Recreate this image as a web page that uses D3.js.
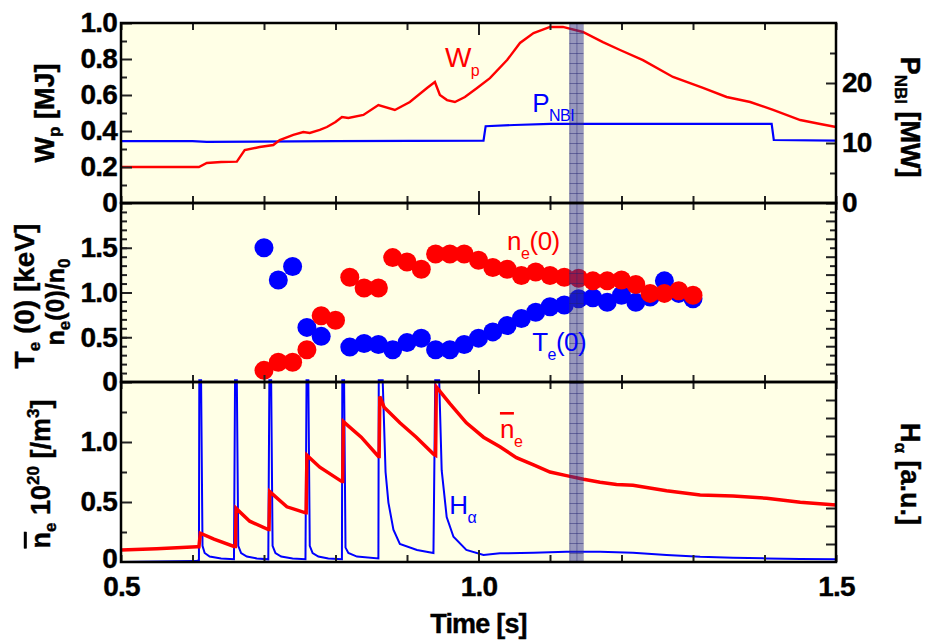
<!DOCTYPE html>
<html>
<head>
<meta charset="utf-8">
<script src="https://cdn.jsdelivr.net/npm/d3@7"></script>
<style>
body { margin: 0; background: #fff; }
svg { display: block; font-family: "Liberation Sans", Arial, sans-serif; }
.tl text { font-size: 28px; font-weight: bold; letter-spacing: -0.8px; fill: #000; stroke: #000; stroke-width: 0.4px; }
.tl line { stroke: #222; stroke-width: 2px; }
.ttl { font-size: 27px; font-weight: bold; fill: #000; stroke: #000; stroke-width: 0.4px; }
.ann { font-size: 26px; letter-spacing: -0.5px; }
</style>
</head>
<body>
<div id="chart"></div>
<script>
var width = 925,
    height = 641;

// W_p [MJ]
var wpTime = [0.50, 0.55, 0.60, 0.609, 0.62, 0.64, 0.662, 0.673, 0.694, 0.713, 0.722, 0.741, 0.755, 0.764, 0.778, 0.788, 0.80, 0.809, 0.818, 0.839, 0.86, 0.883, 0.904, 0.928, 0.939, 0.946, 0.956, 0.967, 0.981, 0.998, 1.016, 1.04, 1.058, 1.077, 1.10, 1.118, 1.146, 1.174, 1.198, 1.23, 1.272, 1.314, 1.347, 1.38, 1.412, 1.45, 1.478, 1.50];
var wpVal  = [0.20, 0.20, 0.20, 0.20, 0.222, 0.228, 0.23, 0.294, 0.311, 0.322, 0.35, 0.378, 0.394, 0.389, 0.406, 0.422, 0.45, 0.478, 0.472, 0.489, 0.544, 0.517, 0.561, 0.639, 0.672, 0.60, 0.572, 0.561, 0.589, 0.639, 0.694, 0.794, 0.889, 0.944, 0.978, 0.978, 0.95, 0.894, 0.85, 0.794, 0.70, 0.639, 0.589, 0.561, 0.517, 0.461, 0.439, 0.422];

// P_NBI [MW]
var pnbiTime = [0.50, 0.60, 0.62, 0.80, 1.007, 1.010, 1.05, 1.10, 1.30, 1.410, 1.413, 1.50];
var pnbiVal  = [10.3, 10.3, 10.2, 10.3, 10.4, 12.8, 13.0, 13.2, 13.2, 13.2, 10.5, 10.4];

// profile points
var profTime = [0.70, 0.72, 0.74, 0.76, 0.78, 0.80, 0.82, 0.84, 0.86, 0.88, 0.90, 0.92, 0.94, 0.96, 0.98, 1.00, 1.02, 1.04, 1.06, 1.08, 1.10, 1.12, 1.14, 1.16, 1.18, 1.20, 1.22, 1.24, 1.26, 1.28, 1.30];
var teVal = [1.50, 1.14, 1.29, 0.61, 0.51, null, 0.39, 0.43, 0.42, 0.36, 0.44, 0.49, 0.36, 0.36, 0.42, 0.49, 0.56, 0.63, 0.71, 0.78, 0.84, 0.86, 0.93, 0.94, 0.89, 0.97, 0.89, 0.95, 1.13, 0.99, 0.93];
var neVal = [0.13, 0.22, 0.22, 0.36, 0.74, 0.69, 1.17, 1.05, 1.05, 1.39, 1.34, 1.26, 1.43, 1.43, 1.43, 1.36, 1.28, 1.26, 1.19, 1.23, 1.19, 1.17, 1.16, 1.13, 1.13, 1.14, 1.09, 0.99, 0.99, 1.02, 0.97];

// line averaged density [10^20 /m^3]
var nbarTime = [0.50, 0.55, 0.606, 0.609, 0.611, 0.63, 0.658, 0.660, 0.661, 0.68, 0.706, 0.707, 0.708, 0.732, 0.758, 0.759, 0.760, 0.778, 0.809, 0.810, 0.811, 0.836, 0.860, 0.861, 0.862, 0.868, 0.890, 0.913, 0.937, 0.940, 0.941, 0.96, 0.983, 1.007, 1.03, 1.053, 1.077, 1.10, 1.123, 1.147, 1.17, 1.193, 1.216, 1.263, 1.31, 1.356, 1.403, 1.45, 1.50];
var nbarVal  = [0.10, 0.11, 0.128, 0.128, 0.24, 0.19, 0.13, 0.13, 0.447, 0.34, 0.27, 0.27, 0.586, 0.46, 0.41, 0.41, 0.89, 0.79, 0.67, 0.67, 1.17, 1.04, 0.88, 0.88, 1.38, 1.29, 1.16, 1.04, 0.90, 0.89, 1.46, 1.32, 1.16, 1.04, 0.96, 0.87, 0.81, 0.75, 0.72, 0.69, 0.665, 0.645, 0.64, 0.594, 0.558, 0.55, 0.531, 0.497, 0.475];

// H alpha [a.u.]
var haTime = [0.50, 0.605, 0.609, 0.6095, 0.612, 0.614, 0.617, 0.624, 0.64, 0.658,
              0.6595, 0.662, 0.664, 0.668, 0.676, 0.69, 0.706,
              0.7075, 0.710, 0.712, 0.716, 0.724, 0.74, 0.758,
              0.7595, 0.762, 0.764, 0.768, 0.776, 0.79, 0.809,
              0.8095, 0.812, 0.814, 0.818, 0.83, 0.86,
              0.8605, 0.866, 0.870, 0.874, 0.881, 0.89, 0.914, 0.937,
              0.9395, 0.945, 0.9485, 0.9555, 0.965, 0.983, 1.007, 1.03, 1.077, 1.123, 1.17, 1.216, 1.263, 1.31, 1.356, 1.403, 1.45, 1.50];
var haVal  = [0.0, 0.05, 0.1, 10.1, 10.1, 0.9, 0.5, 0.3, 0.2, 0.15,
              10.1, 10.1, 0.9, 0.5, 0.3, 0.2, 0.15,
              10.1, 10.1, 0.9, 0.5, 0.3, 0.2, 0.15,
              10.1, 10.1, 0.9, 0.5, 0.3, 0.2, 0.15,
              10.1, 10.1, 0.8, 0.5, 0.3, 0.2,
              10.1, 10.1, 5.0, 3.3, 1.8, 1.0, 0.67, 0.5,
              10.1, 10.1, 5.1, 2.5, 1.4, 0.67, 0.39, 0.48, 0.52, 0.57, 0.57, 0.52, 0.39, 0.29, 0.24, 0.2, 0.17, 0.15];

// highlighted time window
var bandTime = [1.127, 1.147];

var left = 121, right = 836;
var panels = [{top: 23, bottom: 203}, {top: 203, bottom: 382}, {top: 382, bottom: 562}];

var svg = d3.select("#chart").append("svg")
    .attr("width", width)
    .attr("height", height);

var x = d3.scaleLinear().domain([0.5, 1.5]).range([left, right]);
var yW = d3.scaleLinear().domain([0, 1]).range([203, 23]);
var yP = d3.scaleLinear().domain([0, 30]).range([203, 23]);
var yT = d3.scaleLinear().domain([0, 2]).range([382, 203]);
var yN = d3.scaleLinear().domain([0, 1.5]).range([562, 382]);
var yH = d3.scaleLinear().domain([0, 10]).range([562, 382]);

// background
svg.append("rect")
    .attr("x", left).attr("y", 23)
    .attr("width", right - left).attr("height", 562 - 23)
    .attr("fill", "#ffffe6");

function lineOf(ys) {
    return d3.line().x(d => x(d[0])).y(d => ys(d[1]));
}

// panel 1
svg.append("path").attr("d", lineOf(yP)(d3.zip(pnbiTime, pnbiVal)))
    .attr("fill", "none").attr("stroke", "#0000ff").attr("stroke-width", 2.2);
svg.append("path").attr("d", lineOf(yW)(d3.zip(wpTime, wpVal)))
    .attr("fill", "none").attr("stroke", "#ff0000").attr("stroke-width", 2.4);

// panel 3
svg.append("path").attr("d", lineOf(yH)(d3.zip(haTime, haVal)))
    .attr("fill", "none").attr("stroke", "#0000ff").attr("stroke-width", 2);
svg.append("path").attr("d", lineOf(yN)(d3.zip(nbarTime, nbarVal)))
    .attr("fill", "none").attr("stroke", "#ff0000").attr("stroke-width", 3.5);

// panel 2 points
svg.append("g").selectAll("circle")
    .data(d3.zip(profTime, teVal).filter(d => d[1] != null))
    .enter().append("circle")
    .attr("cx", d => x(d[0])).attr("cy", d => yT(d[1])).attr("r", 9.5)
    .attr("fill", "#0000ff");
svg.append("g").selectAll("circle")
    .data(d3.zip(profTime, neVal))
    .enter().append("circle")
    .attr("cx", d => x(d[0])).attr("cy", d => yT(d[1])).attr("r", 9.5)
    .attr("fill", "#ff0000");

// highlighted band with grid
var defs = svg.append("defs");
var pat = defs.append("pattern")
    .attr("id", "grid")
    .attr("patternUnits", "userSpaceOnUse")
    .attr("x", x(bandTime[0])).attr("y", 23)
    .attr("width", (x(bandTime[1]) - x(bandTime[0])) / 2).attr("height", 10);
pat.append("rect").attr("width", 20).attr("height", 10).attr("fill", "rgba(50,50,145,0.5)");
pat.append("line").attr("x1", 0).attr("x2", 20).attr("y1", 0.5).attr("y2", 0.5)
    .attr("stroke", "rgba(30,30,110,0.45)").attr("stroke-width", 1);
pat.append("line").attr("x1", 0.5).attr("x2", 0.5).attr("y1", 0).attr("y2", 10)
    .attr("stroke", "rgba(30,30,110,0.45)").attr("stroke-width", 1);

svg.append("rect")
    .attr("x", x(bandTime[0])).attr("y", 23)
    .attr("width", x(bandTime[1]) - x(bandTime[0])).attr("height", 562 - 23)
    .attr("fill", "url(#grid)");

// x ticks on every panel edge
var xTicks = d3.range(5, 16).map(d => d / 10);
var xLabels = [0.5, 1.0, 1.5];
panels.forEach(function(p, i) {
    var gb = svg.append("g").attr("class", "tl")
        .attr("transform", "translate(0," + p.bottom + ")")
        .call(d3.axisBottom(x).tickValues(xTicks)
            .tickSizeInner(-7).tickSizeOuter(0).tickPadding(14)
            .tickFormat(d => (i == 2 && xLabels.some(v => Math.abs(v - d) < 1e-6)) ? d3.format(".1f")(d) : ""));
    gb.select(".domain").remove();
    gb.selectAll(".tick").filter(d => Math.abs(d - 1) < 1e-6).select("line").attr("y2", -12);

    var gt = svg.append("g").attr("class", "tl")
        .attr("transform", "translate(0," + p.top + ")")
        .call(d3.axisTop(x).tickValues(xTicks).tickSizeInner(-7).tickSizeOuter(0).tickFormat(""));
    gt.select(".domain").remove();
    gt.selectAll(".tick").filter(d => Math.abs(d - 1) < 1e-6).select("line").attr("y2", 12);
});

function fmt(d) { return d == 0 ? "0" : (Number.isInteger(d) && d >= 10 ? String(d) : d3.format(".1f")(d)); }

function leftAxis(scale, major, minor) {
    var g = svg.append("g").attr("class", "tl").attr("transform", "translate(" + left + ",0)");
    g.call(d3.axisLeft(scale).tickValues(minor).tickSizeInner(-6).tickSizeOuter(0).tickFormat(""));
    g.select(".domain").remove();
    var g2 = svg.append("g").attr("class", "tl").attr("transform", "translate(" + left + ",0)");
    g2.call(d3.axisLeft(scale).tickValues(major).tickSizeInner(-11).tickSizeOuter(0).tickPadding(4)
        .tickFormat(fmt));
    g2.select(".domain").remove();
}

function rightAxis(scale, major, minor, labels, len) {
    var g = svg.append("g").attr("class", "tl").attr("transform", "translate(" + right + ",0)");
    g.call(d3.axisRight(scale).tickValues(minor).tickSizeInner(-6).tickSizeOuter(0).tickFormat(""));
    g.select(".domain").remove();
    var g2 = svg.append("g").attr("class", "tl").attr("transform", "translate(" + right + ",0)");
    g2.call(d3.axisRight(scale).tickValues(major).tickSizeInner(-len).tickSizeOuter(0).tickPadding(6)
        .tickFormat(d => labels.indexOf(d) >= 0 ? fmt(d) : ""));
    g2.select(".domain").remove();
}

leftAxis(yW, [0, 0.2, 0.4, 0.6, 0.8, 1.0], [0.1, 0.3, 0.5, 0.7, 0.9]);
leftAxis(yT, [0, 0.5, 1.0, 1.5], d3.range(1, 20).map(d => d / 10));
leftAxis(yN, [0.5, 1.0], [0.25, 0.75, 1.25]);
// bottom zero of lowest panel, nudged up a little as in the original
svg.append("g").attr("class", "tl").append("text")
    .attr("x", left - 4).attr("y", yN(0) + 6).attr("text-anchor", "end").text("0");

rightAxis(yP, [0, 10, 20], [5, 15, 25], [0, 10, 20], 10);
rightAxis(yT, d3.range(2, 20, 2).map(d => d / 10), d3.range(1, 20, 2).map(d => d / 10), [], 10);
rightAxis(yH, d3.range(1, 10), [], [], 10);

// frames
panels.forEach(function(p) {
    svg.append("rect")
        .attr("x", left).attr("y", p.top)
        .attr("width", right - left).attr("height", p.bottom - p.top)
        .attr("fill", "none").attr("stroke", "#000").attr("stroke-width", 2.5);
});

// axis titles
svg.append("text").attr("class", "ttl")
    .attr("x", x(1.0)).attr("y", 633).attr("text-anchor", "middle")
    .style("letter-spacing", "-0.8px")
    .text("Time [s]");

function rotLabel(tx, ty, angle, parts, size) {
    var t = svg.append("text").attr("class", "ttl")
        .attr("transform", "translate(" + tx + "," + ty + ") rotate(" + angle + ")")
        .attr("text-anchor", "middle")
        .style("font-size", (size || 27) + "px");
    var shift = 0;
    parts.forEach(function(p) {
        var s = t.append("tspan").text(p.t);
        var target = p.sub ? 6 : (p.sup ? -11 : 0);
        s.attr("dy", target - shift);
        shift = target;
        if (p.sub || p.sup) s.style("font-size", "17px");
        if (p.over) s.style("text-decoration", "overline");
    });
}

rotLabel(54, 113, -90, [{t: "W"}, {t: "p", sub: true}, {t: " [MJ]"}]);
rotLabel(34, 296, -90, [{t: "T"}, {t: "e", sub: true}, {t: " (0) [keV]"}], 28);
rotLabel(64, 302, -90, [{t: "n"}, {t: "e", sub: true}, {t: "(0)/n"}, {t: "0", sub: true}], 25);
rotLabel(50, 474, -90, [{t: "n", over: true}, {t: "e", sub: true}, {t: " 10"}, {t: "20", sup: true}, {t: " [/m"}, {t: "3", sup: true}, {t: "]"}]);
rotLabel(901, 117, 90, [{t: "P"}, {t: "NBI", sub: true}, {t: " [MW]"}]);
rotLabel(901, 474, 90, [{t: "H"}, {t: "\u03b1", sub: true}, {t: " [a.u.]"}]);

// annotations
function ann(px, py, main, sub, rest, color) {
    var t = svg.append("text").attr("class", "ann")
        .attr("x", px).attr("y", py).attr("fill", color);
    t.append("tspan").text(main);
    t.append("tspan").text(sub).attr("dy", 9).style("font-size", "16px");
    if (rest) t.append("tspan").text(rest).attr("dy", -9);
    return t;
}

ann(x(0.953), 67, "W", "p", "", "#ff0000").style("font-size", "28px");
ann(x(1.075), 112, "P", "NBI", "", "#0000ff");
ann(x(1.04), 250, "n", "e", "(0)", "#ff0000");
ann(x(1.075), 351, "T", "e", "(0)", "#0000ff");
ann(x(1.03), 438, "n", "e", "", "#ff0000").select("tspan").style("text-decoration", "overline");
ann(x(0.959), 514, "H", "\u03b1", "", "#0000ff");
</script>
</body>
</html>
